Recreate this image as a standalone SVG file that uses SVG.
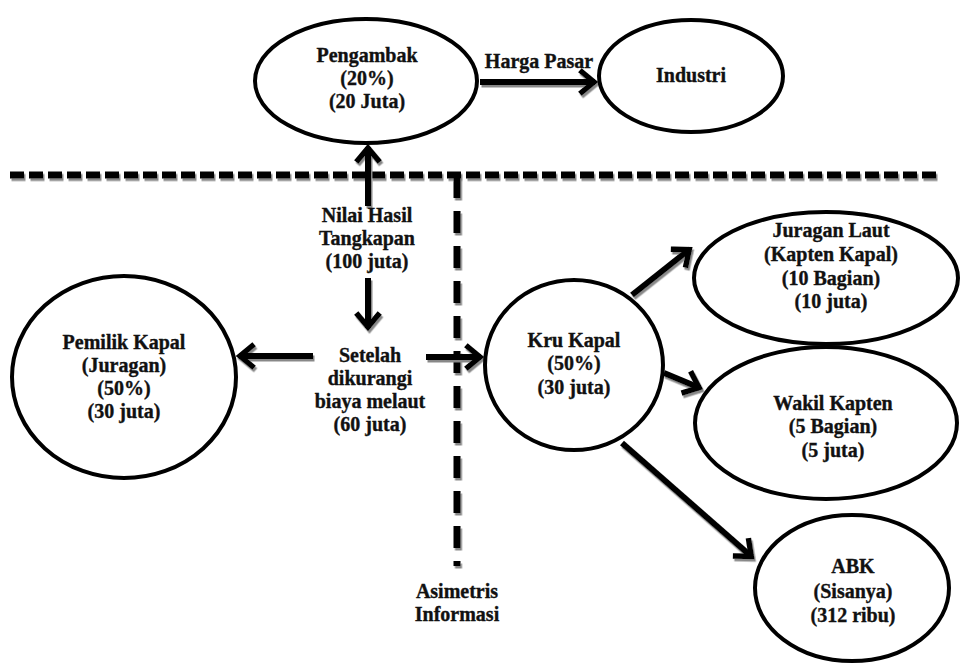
<svg xmlns="http://www.w3.org/2000/svg" width="967" height="663" viewBox="0 0 967 663">
<style>
.n{fill:#fff;stroke:#000;stroke-width:4}
.t{font-family:"Liberation Serif","Times New Roman",serif;font-weight:bold;font-size:20px;text-anchor:middle;fill:#111;stroke:#111;stroke-width:0.35}
.c{stroke:#000;stroke-width:6;fill:none;marker-end:url(#ah)}
.d{stroke:#000;stroke-width:7;fill:none}
</style>
<defs>
<filter id="sh" x="-10%" y="-10%" width="120%" height="120%">
<feDropShadow dx="1.5" dy="2.5" stdDeviation="0.6" flood-color="#888" flood-opacity="1"/>
</filter>
<marker id="ah" markerUnits="userSpaceOnUse" markerWidth="30" markerHeight="30" viewBox="-20 -15 30 30" refX="0" refY="0" orient="auto">
<path d="M-13,-10 L-1,0 L-13,10" fill="none" stroke="#000" stroke-width="5.5" stroke-linecap="square"/>
</marker>
</defs>
<g id="dashes" filter="url(#sh)">
<line class="d" x1="10" y1="175" x2="940" y2="175" stroke-dasharray="14 5"/>
<line class="d" x1="457" y1="176" x2="457" y2="566" stroke-dasharray="22 13" stroke-width="6"/>
</g>
<g id="connectors" filter="url(#sh)">
<line class="c" x1="480" y1="82" x2="595" y2="82"/>
<line class="c" x1="368" y1="206" x2="368" y2="147"/>
<line class="c" x1="368" y1="278" x2="368" y2="328"/>
<line class="c" x1="313" y1="356" x2="239" y2="356"/>
<line class="c" x1="426" y1="357" x2="481" y2="357"/>
<line class="c" x1="632" y1="295" x2="690" y2="249"/>
<line class="c" x1="664" y1="373" x2="700" y2="388"/>
<line class="c" x1="622" y1="443" x2="752" y2="557"/>
</g>
<g id="pengambak">
<ellipse class="n" cx="366" cy="81" rx="111" ry="62"/>
<text class="t" x="367" y="62">Pengambak</text>
<text class="t" x="367" y="85">(20%)</text>
<text class="t" x="367" y="108">(20 Juta)</text>
</g>
<g id="industri">
<ellipse class="n" cx="691" cy="76" rx="92" ry="56"/>
<text class="t" x="691" y="82">Industri</text>
</g>
<g id="label-harga">
<text class="t" x="539" y="68">Harga Pasar</text>
</g>
<g id="nilai">
<text class="t" x="367" y="222">Nilai Hasil</text>
<text class="t" x="367" y="245">Tangkapan</text>
<text class="t" x="367" y="268">(100 juta)</text>
</g>
<g id="setelah">
<text class="t" x="370" y="362">Setelah</text>
<text class="t" x="370" y="385">dikurangi</text>
<text class="t" x="370" y="408">biaya melaut</text>
<text class="t" x="370" y="431">(60 juta)</text>
</g>
<g id="pemilik">
<ellipse class="n" cx="124" cy="377" rx="112" ry="101"/>
<text class="t" x="124" y="349">Pemilik Kapal</text>
<text class="t" x="124" y="372">(Juragan)</text>
<text class="t" x="124" y="395">(50%)</text>
<text class="t" x="124" y="418">(30 juta)</text>
</g>
<g id="kru">
<ellipse class="n" cx="574" cy="365" rx="89" ry="85"/>
<text class="t" x="574" y="347">Kru Kapal</text>
<text class="t" x="574" y="370">(50%)</text>
<text class="t" x="574" y="394">(30 juta)</text>
</g>
<g id="juragan-laut">
<ellipse class="n" cx="826" cy="278" rx="132" ry="66"/>
<text class="t" x="831" y="237">Juragan Laut</text>
<text class="t" x="831" y="261">(Kapten Kapal)</text>
<text class="t" x="831" y="285">(10 Bagian)</text>
<text class="t" x="831" y="308">(10 juta)</text>
</g>
<g id="wakil">
<ellipse class="n" cx="826" cy="423" rx="131" ry="76"/>
<text class="t" x="833" y="410">Wakil Kapten</text>
<text class="t" x="833" y="433">(5 Bagian)</text>
<text class="t" x="833" y="457">(5 juta)</text>
</g>
<g id="abk">
<ellipse class="n" cx="852" cy="588" rx="97" ry="73"/>
<text class="t" x="853" y="573">ABK</text>
<text class="t" x="853" y="598">(Sisanya)</text>
<text class="t" x="853" y="622">(312 ribu)</text>
</g>
<g id="asimetris">
<text class="t" x="457" y="598">Asimetris</text>
<text class="t" x="457" y="621">Informasi</text>
</g>
</svg>
